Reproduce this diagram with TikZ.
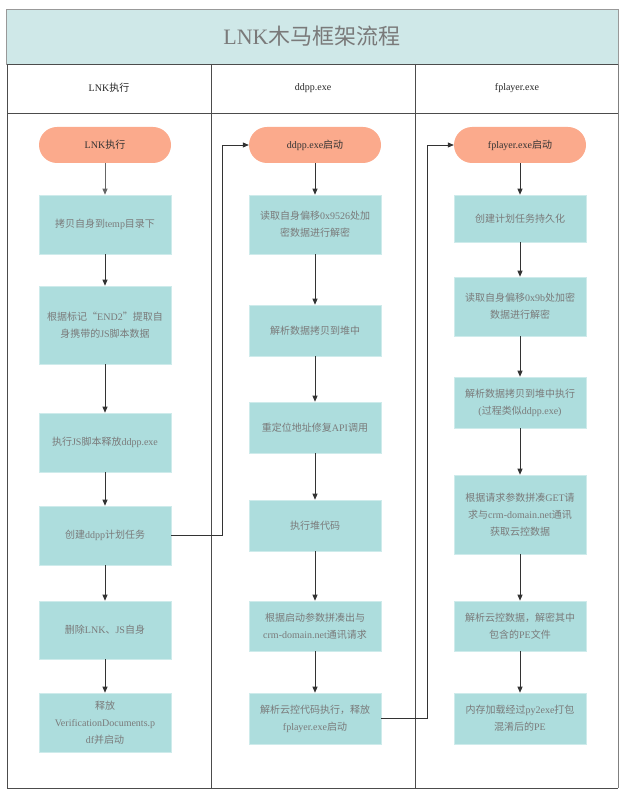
\documentclass[tikz,border=0pt]{standalone}
\usepackage{fontspec}
\setmainfont{Liberation Serif}
\newfontfamily\cjk{Noto Sans CJK SC}
\newcommand\zh[1]{{\cjk #1}}
\usetikzlibrary{arrows.meta}
\definecolor{boxc}{HTML}{ADDDDD}
\definecolor{termc}{HTML}{FBAA8C}
\definecolor{titlec}{HTML}{CFE8E8}
\definecolor{txtc}{HTML}{7A7A7A}
\definecolor{linec}{HTML}{333333}
\begin{document}
\begin{tikzpicture}[x=1pt,y=-1pt,
  box/.style={fill=boxc, draw=boxc!60!white, line width=0.6pt, minimum width=132pt, text width=126pt, align=center, inner sep=0pt, font=\fontsize{10}{17}\selectfont, text=txtc},
  term/.style={fill=termc, draw=none, rounded corners=18pt, minimum width=132pt, minimum height=36pt, inner sep=0pt, font=\fontsize{10}{12}\selectfont, text=linec},
  arr/.style={draw=linec, line width=0.8pt, -{Triangle[length=6pt,width=5pt]}},
  hdr/.style={font=\fontsize{10}{12}\selectfont, text=black!85},
  frame/.style={draw=black!70, line width=0.8pt}]
\useasboundingbox (0,0) rectangle (626,791);
% title band and frame
\fill[titlec] (6,9) rectangle (618,64);
\draw[draw=black!40, line width=0.8pt] (6,9) rectangle (618,64);
\node[font=\fontsize{22}{24}\selectfont, text=txtc] (title) at (312,36) {LNK\zh{木马框架流程}};
\draw[frame] (7,64) -- (618,64);
\draw[frame] (7,113) -- (618,113);
\draw[frame] (7,64) -- (7,788) -- (618,788);
\draw[draw=black!50, line width=0.8pt] (618,64) -- (618,788);
\draw[frame] (211,64) -- (211,788);
\draw[frame] (415,64) -- (415,788);
\node[hdr] (h1) at (109,88) {LNK\zh{执行}};
\node[hdr] (h2) at (313,88) {ddpp.exe};
\node[hdr] (h3) at (517,88) {fplayer.exe};
% column 1
\node[term] (t1) at (105,145) {LNK\zh{执行}};
\node[box, minimum height=59pt] (b1) at (105,224.5) {\zh{拷贝自身到}temp\zh{目录下}};
\node[box, minimum height=78pt] (b2) at (105,325) {\zh{根据标记“}END2\zh{”提取自}\\\zh{身携带的}JS\zh{脚本数据}};
\node[box, minimum height=59pt] (b3) at (105,442.5) {\zh{执行}JS\zh{脚本释放}ddpp.exe};
\node[box, minimum height=59pt] (b4) at (105,535.5) {\zh{创建}ddpp\zh{计划任务}};
\node[box, minimum height=58pt] (b5) at (105,630) {\zh{删除}LNK\zh{、}JS\zh{自身}};
\node[box, minimum height=59pt] (b6) at (105,722.5) {\zh{释放}\\VerificationDocuments.p\\df\zh{并启动}};
% column 2
\node[term] (t2) at (315,145) {ddpp.exe\zh{启动}};
\node[box, minimum height=59pt] (c1) at (315,224.5) {\zh{读取自身偏移}0x9526\zh{处加}\\\zh{密数据进行解密}};
\node[box, minimum height=51pt] (c2) at (315,330.5) {\zh{解析数据拷贝到堆中}};
\node[box, minimum height=51pt] (c3) at (315,427.5) {\zh{重定位地址修复}API\zh{调用}};
\node[box, minimum height=51pt] (c4) at (315,525.5) {\zh{执行堆代码}};
\node[box, minimum height=50pt] (c5) at (315,626) {\zh{根据启动参数拼凑出与}\\crm-domain.net\zh{通讯请求}};
\node[box, minimum height=51pt] (c6) at (315,718.5) {\zh{解析云控代码执行，释放}\\fplayer.exe\zh{启动}};
% column 3
\node[term] (t3) at (520,145) {fplayer.exe\zh{启动}};
\node[box, minimum height=47pt] (d1) at (520,218.5) {\zh{创建计划任务持久化}};
\node[box, minimum height=59pt] (d2) at (520,306.5) {\zh{读取自身偏移}0x9b\zh{处加密}\\\zh{数据进行解密}};
\node[box, minimum height=51pt] (d3) at (520,402.5) {\zh{解析数据拷贝到堆中执行}\\(\zh{过程类似}ddpp.exe)};
\node[box, minimum height=79pt] (d4) at (520,514.5) {\zh{根据请求参数拼凑}GET\zh{请}\\\zh{求与}crm-domain.net\zh{通讯}\\\zh{获取云控数据}};
\node[box, minimum height=50pt] (d5) at (520,626) {\zh{解析云控数据，解密其中}\\\zh{包含的}PE\zh{文件}};
\node[box, minimum height=51pt] (d6) at (520,718.5) {\zh{内存加载经过}py2exe\zh{打包}\\\zh{混淆后的}PE};
% connectors
\draw[arr, draw=black!60] (t1) -- (b1);
\draw[arr] (b1) -- (b2);
\draw[arr] (b2) -- (b3);
\draw[arr] (b3) -- (b4);
\draw[arr] (b4) -- (b5);
\draw[arr] (b5) -- (b6);
\draw[arr] (t2) -- (c1);
\draw[arr] (c1) -- (c2);
\draw[arr] (c2) -- (c3);
\draw[arr] (c3) -- (c4);
\draw[arr] (c4) -- (c5);
\draw[arr] (c5) -- (c6);
\draw[arr] (t3) -- (d1);
\draw[arr] (d1) -- (d2);
\draw[arr] (d2) -- (d3);
\draw[arr] (d3) -- (d4);
\draw[arr] (d4) -- (d5);
\draw[arr] (d5) -- (d6);
\coordinate (j1) at (222,0);
\coordinate (j2) at (427,0);
\draw[arr] (b4.east) -- (b4.east -| j1) |- (t2.west);
\draw[arr] (c6.east) -- (c6.east -| j2) |- (t3.west);
\end{tikzpicture}
\end{document}
